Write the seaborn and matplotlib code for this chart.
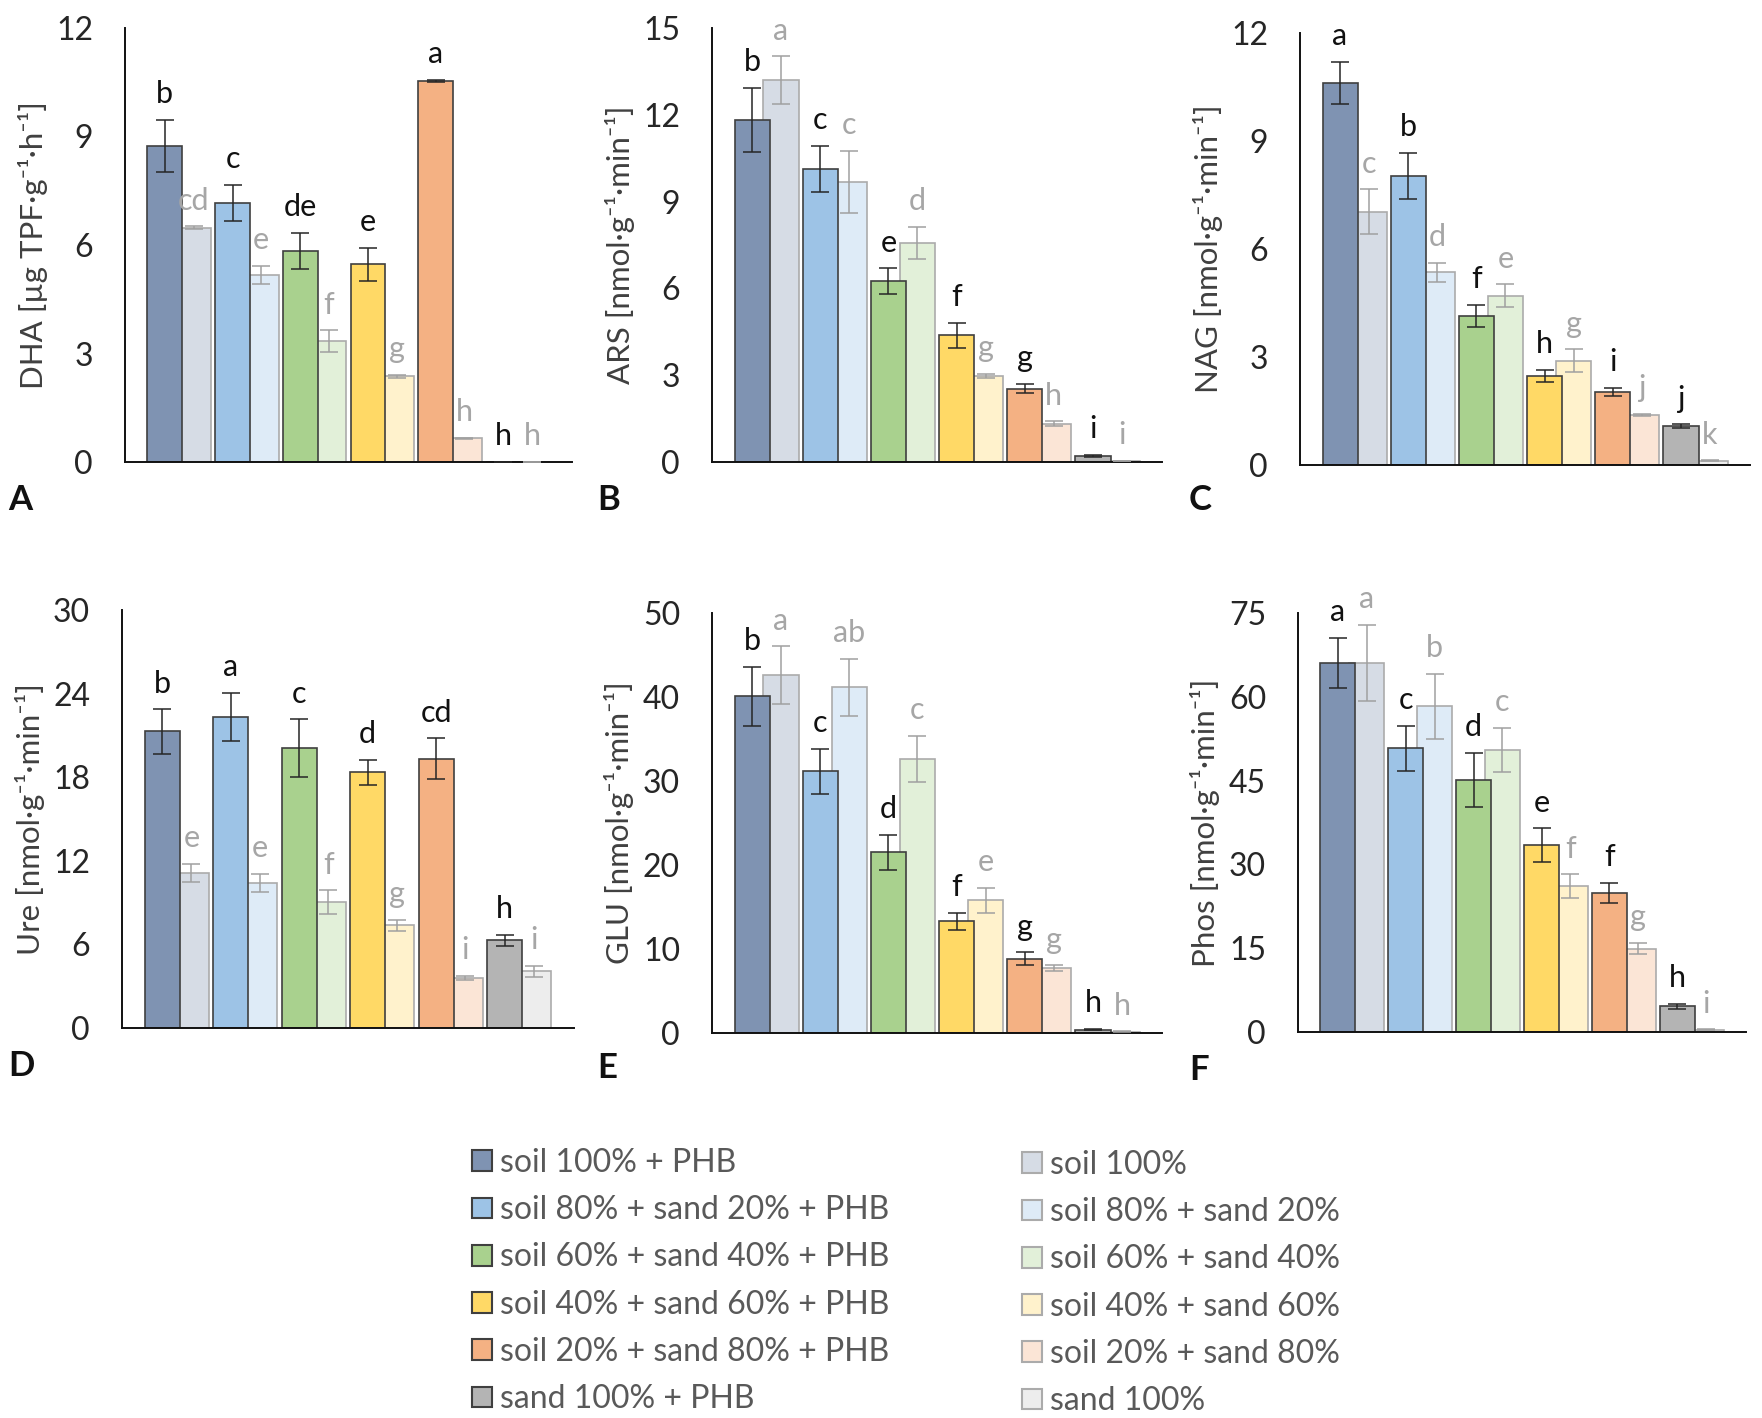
import numpy as np
import pandas as pd
import matplotlib
matplotlib.use("Agg")
import matplotlib.pyplot as plt
from matplotlib.patches import Patch
import seaborn as sns

# treatments
groups = ["soil 100%", "soil 80% + sand 20%", "soil 60% + sand 40%",
          "soil 40% + sand 60%", "soil 20% + sand 80%", "sand 100%"]
phb_labels = [g + " + PHB" for g in groups]

dark_colors = ["#7f93b2", "#9dc3e6", "#a9d18e", "#ffd966", "#f4b183", "#b4b4b4"]
light_colors = ["#d6dce5", "#deebf7", "#e2f0d9", "#fff2cc", "#fbe5d6", "#ededed"]

# A - DHA
dha_phb = [8.75, 7.16, 5.84, 5.47, 10.54, 0.0]
dha_phb_err = [0.72, 0.50, 0.50, 0.46, 0.03, 0.0]
dha_ctrl = [6.48, 5.17, 3.34, 2.37, 0.65, 0.0]
dha_ctrl_err = [0.04, 0.25, 0.30, 0.04, 0.02, 0.0]
dha_let_phb = ["b", "c", "de", "e", "a", "h"]
dha_let_ctrl = ["cd", "e", "f", "g", "h", "h"]

# B - ARS
ars_phb = [11.83, 10.12, 6.25, 4.38, 2.54, 0.21]
ars_phb_err = [1.10, 0.80, 0.44, 0.43, 0.17, 0.03]
ars_ctrl = [13.19, 9.69, 7.58, 2.97, 1.33, 0.03]
ars_ctrl_err = [0.83, 1.07, 0.55, 0.08, 0.07, 0.01]
ars_let_phb = ["b", "c", "e", "f", "g", "i"]
ars_let_ctrl = ["a", "c", "d", "g", "h", "i"]

# C - NAG
nag_phb = [10.61, 8.04, 4.14, 2.47, 2.04, 1.08]
nag_phb_err = [0.58, 0.64, 0.30, 0.17, 0.11, 0.05]
nag_ctrl = [7.04, 5.35, 4.70, 2.89, 1.39, 0.12]
nag_ctrl_err = [0.62, 0.26, 0.32, 0.32, 0.03, 0.01]
nag_let_phb = ["a", "b", "f", "h", "i", "j"]
nag_let_ctrl = ["c", "d", "e", "g", "j", "k"]

# D - Ure
ure_phb = [21.28, 22.35, 20.08, 18.34, 19.32, 6.29]
ure_phb_err = [1.60, 1.72, 2.08, 0.90, 1.48, 0.40]
ure_ctrl = [11.12, 10.40, 9.04, 7.36, 3.59, 4.06]
ure_ctrl_err = [0.67, 0.65, 0.84, 0.41, 0.15, 0.40]
ure_let_phb = ["b", "a", "c", "d", "cd", "h"]
ure_let_ctrl = ["e", "e", "f", "g", "i", "i"]

# E - GLU
glu_phb = [40.08, 31.15, 21.50, 13.29, 8.85, 0.40]
glu_phb_err = [3.50, 2.66, 2.10, 1.00, 0.75, 0.10]
glu_ctrl = [42.58, 41.15, 32.66, 15.79, 7.74, 0.15]
glu_ctrl_err = [3.45, 3.37, 2.74, 1.47, 0.30, 0.05]
glu_let_phb = ["b", "c", "d", "f", "g", "h"]
glu_let_ctrl = ["a", "ab", "c", "e", "g", "h"]

# F - Phos
phos_phb = [66.05, 50.80, 45.13, 33.47, 24.93, 4.60]
phos_phb_err = [4.50, 4.00, 4.80, 3.00, 1.80, 0.48]
phos_ctrl = [66.05, 58.28, 50.50, 26.12, 14.94, 0.40]
phos_ctrl_err = [6.80, 5.80, 3.90, 2.10, 1.00, 0.05]
phos_let_phb = ["a", "c", "d", "e", "f", "h"]
phos_let_ctrl = ["a", "b", "c", "f", "g", "i"]

sns.set_theme(style="white")
plt.rcParams["font.family"] = ["Lato", "DejaVu Sans"]

W, H = 1762, 1418
fig = plt.figure(figsize=(W / 100, H / 100), dpi=100)

def px_rect(l, r, t, b):
    return [l / W, 1 - b / H, (r - l) / W, (b - t) / H]

panels = [
    ("A", "DHA [µg TPF·g⁻¹·h⁻¹]", 12, 3, (125, 572, 28, 462), (8, 500),
     dha_phb, dha_phb_err, dha_ctrl, dha_ctrl_err, dha_let_phb, dha_let_ctrl),
    ("B", "ARS [nmol·g⁻¹·min⁻¹]", 15, 3, (712, 1162, 28, 462), (597, 500),
     ars_phb, ars_phb_err, ars_ctrl, ars_ctrl_err, ars_let_phb, ars_let_ctrl),
    ("C", "NAG [nmol·g⁻¹·min⁻¹]", 12, 3, (1300, 1750, 33, 465), (1189, 500),
     nag_phb, nag_phb_err, nag_ctrl, nag_ctrl_err, nag_let_phb, nag_let_ctrl),
    ("D", "Ure [nmol·g⁻¹·min⁻¹]", 30, 6, (122, 574, 610, 1028), (8, 1066),
     ure_phb, ure_phb_err, ure_ctrl, ure_ctrl_err, ure_let_phb, ure_let_ctrl),
    ("E", "GLU [nmol·g⁻¹·min⁻¹]", 50, 10, (712, 1162, 613, 1033), (597, 1068),
     glu_phb, glu_phb_err, glu_ctrl, glu_ctrl_err, glu_let_phb, glu_let_ctrl),
    ("F", "Phos [nmol·g⁻¹·min⁻¹]", 75, 15, (1298, 1746, 613, 1032), (1189, 1070),
     phos_phb, phos_phb_err, phos_ctrl, phos_ctrl_err, phos_let_phb, phos_let_ctrl),
]

bar_w = 0.515
shift = 0.2125
idx = np.arange(len(groups))

for tag, ylabel, ymax, step, box, tagpos, phb, phb_err, ctrl, ctrl_err, let_phb, let_ctrl in panels:
    ax = fig.add_axes(px_rect(*box))
    df_ctrl = pd.DataFrame({"pos": idx + shift, "value": ctrl, "group": groups})
    df_phb = pd.DataFrame({"pos": idx - shift, "value": phb, "group": groups})

    # light (no PHB) bars behind, PHB bars in front
    sns.barplot(data=df_ctrl, x="pos", y="value", hue="group", palette=light_colors,
                saturation=1, native_scale=True, width=bar_w, dodge=False, errorbar=None,
                legend=False, edgecolor="#ababab", linewidth=1.2, ax=ax)
    sns.barplot(data=df_phb, x="pos", y="value", hue="group", palette=dark_colors,
                saturation=1, native_scale=True, width=bar_w, dodge=False, errorbar=None,
                legend=False, edgecolor="#3f3f3f", linewidth=1.2, ax=ax)

    ax.errorbar(df_ctrl["pos"], ctrl, yerr=ctrl_err, fmt="none", ecolor="#a0a0a0",
                elinewidth=1.1, capsize=6.4, capthick=1.1, zorder=5)
    ax.errorbar(df_phb["pos"], phb, yerr=phb_err, fmt="none", ecolor="#262626",
                elinewidth=1.1, capsize=6.4, capthick=1.1, zorder=5)

    for x, v, e, t in zip(df_ctrl["pos"], ctrl, ctrl_err, let_ctrl):
        ax.annotate(t, (x, v + e), xytext=(0, 12), textcoords="offset points",
                    ha="center", va="baseline", fontsize=22, color="#a6a6a6")
    for x, v, e, t in zip(df_phb["pos"], phb, phb_err, let_phb):
        ax.annotate(t, (x, v + e), xytext=(0, 12), textcoords="offset points",
                    ha="center", va="baseline", fontsize=22, color="#111111")

    ax.set_xlim(-0.8, 5.8)
    ax.set_ylim(0, ymax)
    ax.set_xticks([])
    ax.set_yticks(np.arange(0, ymax + 0.1, step))
    ax.set_xlabel("")
    ax.set_ylabel(ylabel, fontsize=22.5, color="#404040", labelpad=6)
    ax.tick_params(axis="y", length=0, pad=23, labelsize=23, labelcolor="#262626")
    for s in ["top", "right"]:
        ax.spines[s].set_visible(False)
    for s in ["left", "bottom"]:
        ax.spines[s].set_color("#111111")
        ax.spines[s].set_linewidth(1.4)

    fig.text(tagpos[0] / W, 1 - tagpos[1] / H, tag, fontsize=25, fontweight="bold",
             ha="left", va="center", color="#111111")

dark_handles = [Patch(facecolor=c, edgecolor="#3f3f3f", linewidth=1.5) for c in dark_colors]
light_handles = [Patch(facecolor=c, edgecolor="#ababab", linewidth=1.5) for c in light_colors]

leg_kw = dict(loc="upper left", frameon=False, fontsize=23, handlelength=0.63,
              handleheight=0.63, handletextpad=0.25, labelspacing=0.54, borderpad=0,
              borderaxespad=0, labelcolor="#595959")
fig.legend(dark_handles, phb_labels, bbox_to_anchor=(472 / W, 1 - 1148 / H), **leg_kw)
fig.legend(light_handles, groups, bbox_to_anchor=(1022 / W, 1 - 1150 / H), **leg_kw)

fig.savefig("out.png", dpi=100, facecolor="white")
